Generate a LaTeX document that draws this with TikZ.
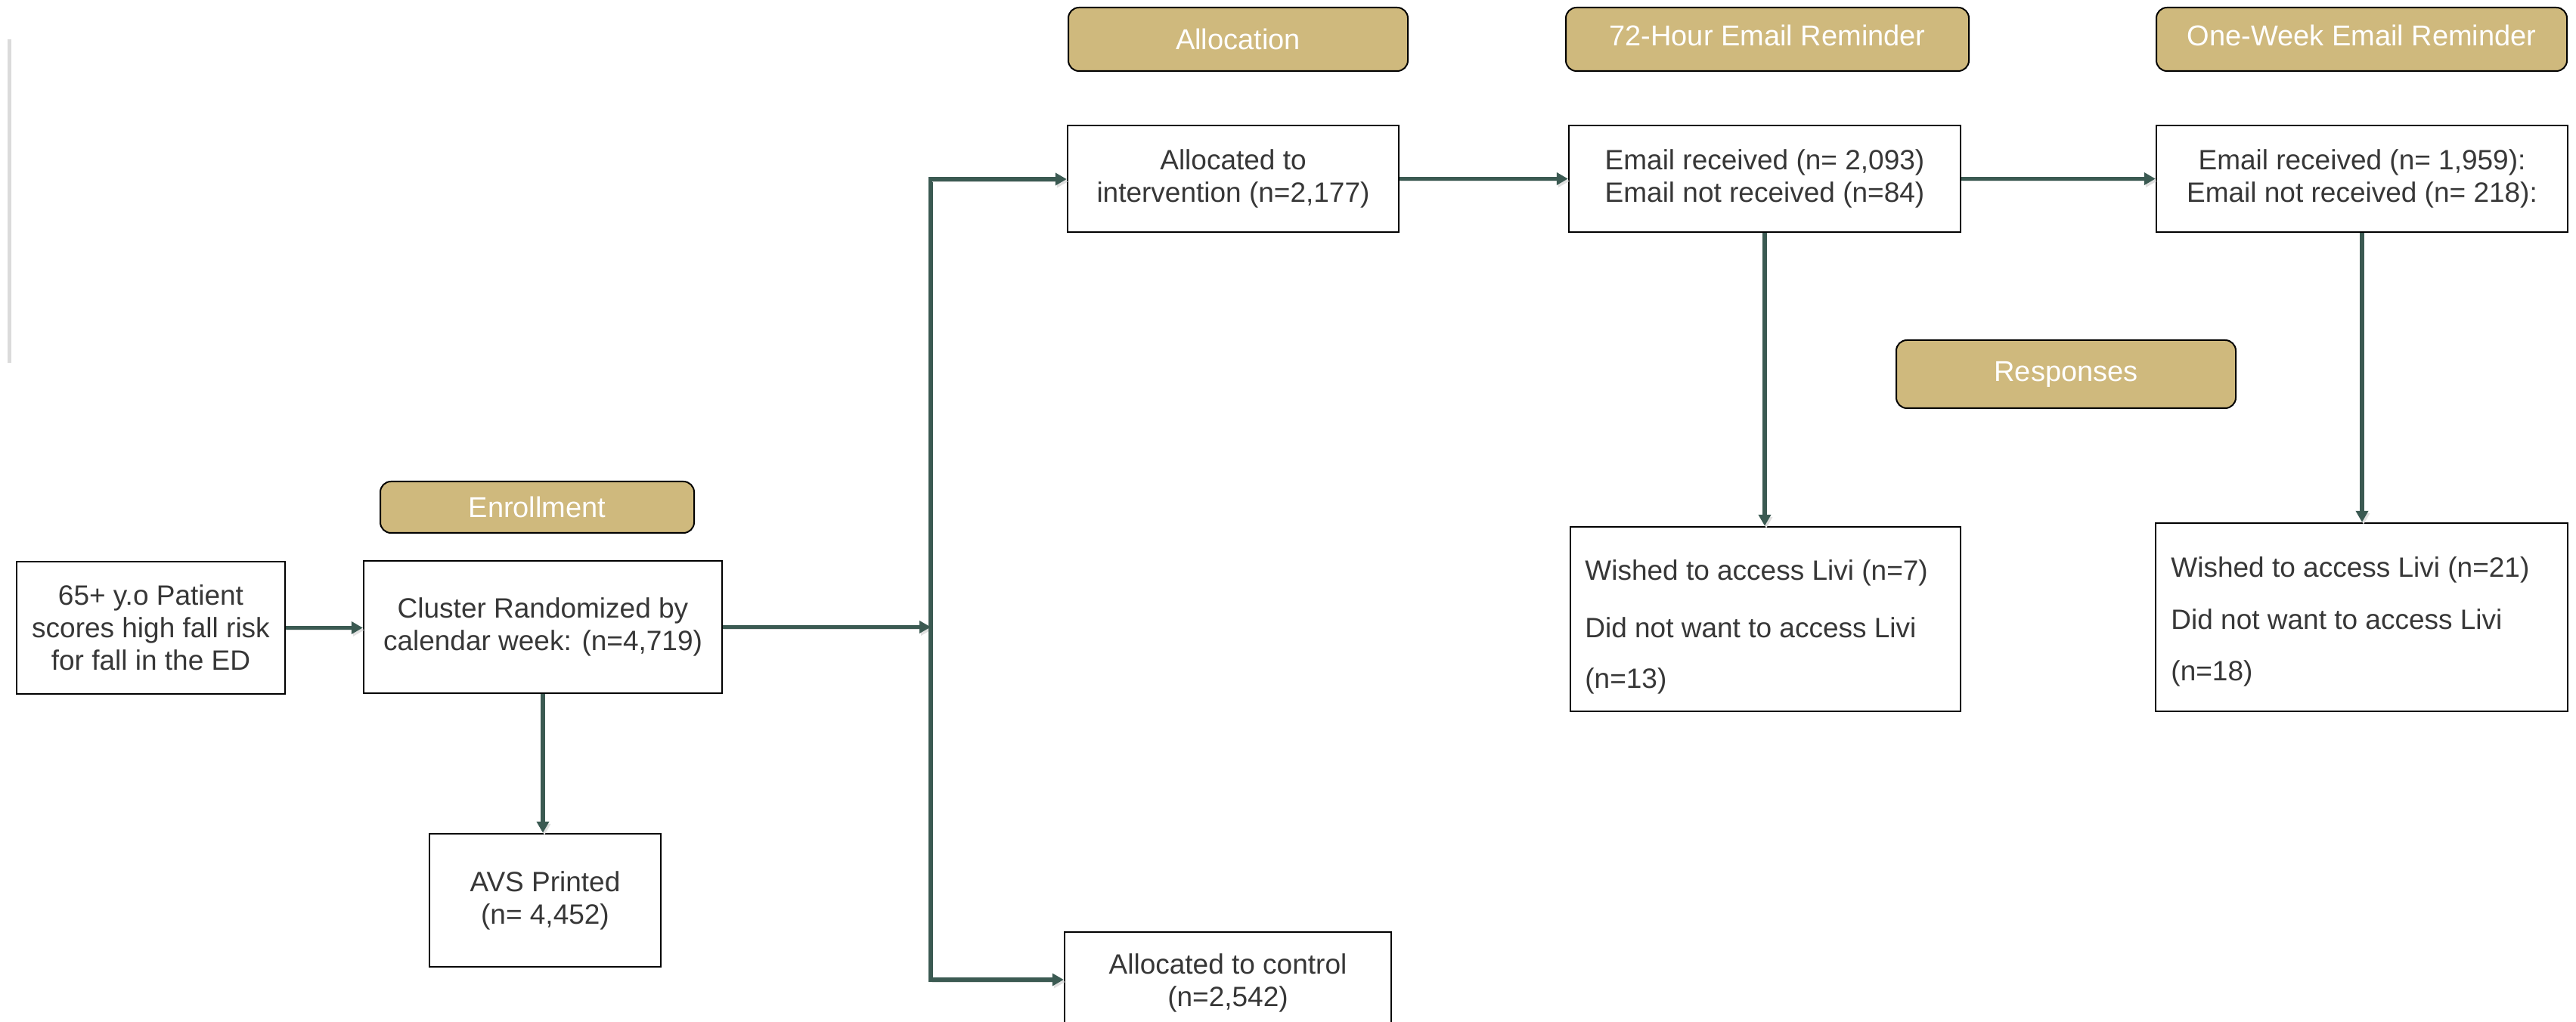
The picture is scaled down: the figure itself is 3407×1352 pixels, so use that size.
\documentclass[tikz,border=0pt]{standalone}
\usepackage{fontspec}
\setmainfont{Liberation Sans}
\usetikzlibrary{arrows.meta,calc}
\definecolor{hdrtan}{RGB}{207,185,125}
\definecolor{conncol}{RGB}{59,90,82}
\definecolor{txtcol}{RGB}{55,55,55}
\tikzset{
  box/.style={draw=black, line width=1.2pt, fill=white, inner sep=0pt, align=center,
    text=txtcol, font=\fontsize{18.5}{21.5}\selectfont},
  hdr/.style={draw=black, line width=1pt, fill=hdrtan, rounded corners=7pt, inner sep=0pt,
    text=white, font=\fontsize{19}{22}\selectfont},
  hdrup/.style={hdr, text depth=5pt},
  conn/.style={draw=conncol, line width=2.7pt, -{Triangle[length=7.5pt,width=8pt]},
    preaction={draw=black!12, transform canvas={shift={(1pt,-1.5pt)}}}},
  thinconn/.style={conn, line width=2.7pt},
  busline/.style={draw=conncol, line width=2.7pt, line cap=rect,
    preaction={draw=black!12, transform canvas={shift={(1pt,-1.5pt)}}}},
  txtline/.style={anchor=base west, text=txtcol, font=\fontsize{18.5}{21.5}\selectfont, inner sep=0pt},
}
\begin{document}
\begin{tikzpicture}[x=0.5pt,y=-0.5pt]
\useasboundingbox (0,0) rectangle (3407,1352);
\fill[white] (0,0) rectangle (3407,1352);

% faint left rule
\draw[draw=black!14, line width=2.5pt] (12,52) -- (12,480);

% headers
\node[hdr, minimum width=207.5pt, minimum height=34pt] (enroll) at (710.5,671) {Enrollment};
\node[hdr, minimum width=224.5pt, minimum height=42pt] (alloc) at (1637.5,52) {Allocation};
\node[hdrup, minimum width=266.5pt, minimum height=42pt] (hr72) at (2337.5,52) {72-Hour Email Reminder};
\node[hdrup, minimum width=271.5pt, minimum height=42pt] (week) at (3123.5,52) {One-Week Email Reminder};
\node[hdr, minimum width=224.5pt, minimum height=45pt] (resp) at (2732.5,495) {Responses};

% boxes
\node[box, minimum width=177.5pt, minimum height=87.5pt] (patient) at (199.5,830.5)
  {65+ y.o Patient\\scores high fall risk\\for fall in the ED};
\node[box, minimum width=237pt, minimum height=87.5pt] (cluster) at (718,829.5)
  {Cluster Randomized by\\calendar week: (n=4,719)};
\node[box, minimum width=153pt, minimum height=88pt] (avs) at (721,1191)
  {AVS Printed\\(n= 4,452)};
\node[box, minimum width=219pt, minimum height=70.5pt] (interv) at (1631,236.5)
  {Allocated to\\intervention (n=2,177)};
\node[box, minimum width=216pt, minimum height=67pt] (control) at (1624,1300)
  {Allocated to control\\(n=2,542)};
\node[box, minimum width=259pt, minimum height=70.5pt] (email1) at (2334,236.5)
  {Email received (n= 2,093)\\Email not received (n=84)};
\node[box, minimum width=272pt, minimum height=70.5pt] (email2) at (3124,236.5)
  {Email received (n= 1,959):\\Email not received (n= 218):};
\node[box, minimum width=258pt, minimum height=122pt] (wish1) at (2335,819) {};
\node[box, minimum width=272.5pt, minimum height=124.5pt] (wish2) at (3123.5,816.5) {};

\node[txtline] (w1a) at (2096,768) {Wished to access Livi (n=7)};
\node[txtline] (w1b) at (2096,843) {Did not want to access Livi};
\node[txtline] (w1c) at (2096,910) {(n=13)};
\node[txtline] (w2a) at (2871,763) {Wished to access Livi (n=21)};
\node[txtline] (w2b) at (2871,832) {Did not want to access Livi};
\node[txtline] (w2c) at (2871,900) {(n=18)};

% bus coordinates
\coordinate (bustop) at (1231,237);
\coordinate (busbot) at (1231,1296);
\coordinate (busmid) at (1231,831);

% connectors
\draw[conn] (patient.east) -- (patient.east -| cluster.west);
\draw[thinconn] (cluster.south) -- (cluster.south |- avs.north);
\draw[conn] (cluster.east) -- (cluster.east -| busmid);
\draw[busline] (bustop) -- (busbot);
\draw[conn] (bustop) -- (bustop -| interv.west);
\draw[conn] (busbot) -- (busbot -| control.west);
\draw[conn] (interv.east) -- (interv.east -| email1.west);
\draw[conn] (email1.east) -- (email1.east -| email2.west);
\draw[thinconn] (email1.south) -- (email1.south |- wish1.north);
\draw[thinconn] (email2.south) -- (email2.south |- wish2.north);
\end{tikzpicture}
\end{document}
